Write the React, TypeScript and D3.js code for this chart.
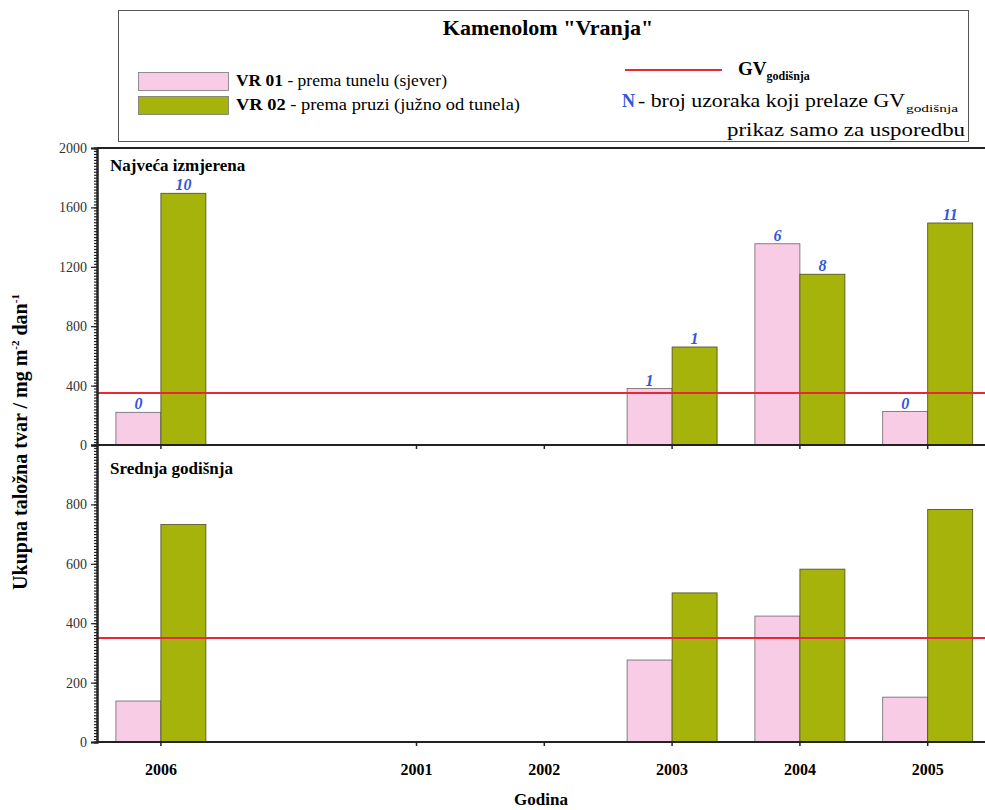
import React, { useRef, useEffect } from 'react';
import * as d3 from 'd3';

// categories along the x axis ('' is an empty slot without a tick)
const years = ['2006', '', '2001', '2002', '2003', '2004', '2005'];

// Najveća izmjerena (max measured)
const maxVR01 = [220, null, null, null, 380, 1355, 225];
const maxVR02 = [1695, null, null, null, 660, 1150, 1495];

// Srednja godišnja (annual mean)
const meanVR01 = [138, null, null, null, 276, 424, 151];
const meanVR02 = [732, null, null, null, 502, 582, 783];

// N - number of samples above GV
const countVR01 = [0, null, null, null, 1, 6, 0];
const countVR02 = [10, null, null, null, 1, 8, 11];

const gvLimit = 350;
const topTicks = [0, 400, 800, 1200, 1600, 2000];
const bottomTicks = [0, 200, 400, 600, 800];

const PINK = '#f9cce6';
const GREEN = '#a6b30b';
const RED = '#e8283a';
const BLUE = '#3556d8';
const FONT = "'Liberation Serif', 'Times New Roman', Times, 'DejaVu Serif', serif";

const App: React.FC = () => {
  const svgRef = useRef<SVGSVGElement>(null);
  const width = 985;
  const height = 810;

  useEffect(() => {
    if (!svgRef.current) return;
    const svg = d3.select(svgRef.current);
    svg.selectAll('*').remove();
    svg.style('font-family', FONT);

    const left = 97;
    const step = 127.8;
    const top1 = 148;
    const mid = 445;
    const bottom2 = 742;

    const x = d3
      .scaleBand<string>()
      .domain(years.map((d, i) => `${i}`))
      .range([left, left + step * years.length])
      .padding(0);
    const center = (i: number) => (x(`${i}`) as number) + x.bandwidth() / 2;

    const inner = d3.scaleBand<string>().domain(['VR01', 'VR02']).range([-45, 45]);

    const yTop = d3.scaleLinear().domain([0, 2000]).range([mid, top1]);
    const yBot = d3.scaleLinear().domain([0, 1000]).range([bottom2, mid]);

    // ---- legend box
    const lg = svg.append('g').style('font-family', FONT);
    lg.append('rect')
      .attr('x', 118.5)
      .attr('y', 10.5)
      .attr('width', 850)
      .attr('height', 131)
      .attr('fill', 'white')
      .attr('stroke', '#555')
      .attr('stroke-width', 1);
    lg.append('text')
      .attr('x', 548)
      .attr('y', 35)
      .attr('text-anchor', 'middle')
      .attr('font-size', 22)
      .attr('font-weight', 'bold')
      .text('Kamenolom "Vranja"');

    const legendItems = [
      { color: PINK, code: 'VR 01', desc: ' - prema tunelu (sjever)', y: 72, w: 211 },
      { color: GREEN, code: 'VR 02', desc: ' - prema pruzi (južno od tunela)', y: 96, w: 284 },
    ];
    legendItems.forEach((it) => {
      lg.append('rect')
        .attr('x', 138.5)
        .attr('y', it.y + 0.5)
        .attr('width', 90)
        .attr('height', 18)
        .attr('fill', it.color)
        .attr('stroke', '#777')
        .attr('stroke-width', 0.8);
      const t = lg
        .append('text')
        .attr('x', 236)
        .attr('y', it.y + 14)
        .attr('font-size', 16)
        .attr('textLength', it.w)
        .attr('lengthAdjust', 'spacingAndGlyphs');
      t.append('tspan').attr('font-weight', 'bold').text(it.code);
      t.append('tspan').text(it.desc);
    });

    lg.append('line')
      .attr('x1', 625)
      .attr('x2', 722)
      .attr('y1', 70)
      .attr('y2', 70)
      .attr('stroke', RED)
      .attr('stroke-width', 2);
    const gv = lg
      .append('text')
      .attr('x', 738)
      .attr('y', 75)
      .attr('font-size', 19)
      .attr('font-weight', 'bold');
    gv.append('tspan').text('GV');
    gv.append('tspan').attr('font-size', 12).attr('dy', 5).text('godišnja');

    lg.append('text')
      .attr('x', 622)
      .attr('y', 107)
      .attr('font-size', 18)
      .attr('font-weight', 'bold')
      .attr('fill', BLUE)
      .text('N');
    lg.append('text')
      .attr('x', 638)
      .attr('y', 107)
      .attr('font-size', 18)
      .attr('textLength', 267)
      .attr('lengthAdjust', 'spacingAndGlyphs')
      .text('- broj uzoraka koji prelaze GV');
    lg.append('text')
      .attr('x', 906)
      .attr('y', 112)
      .attr('font-size', 11)
      .attr('textLength', 52)
      .attr('lengthAdjust', 'spacingAndGlyphs')
      .text('godišnja');
    lg.append('text')
      .attr('x', 727)
      .attr('y', 136)
      .attr('font-size', 18)
      .attr('textLength', 238)
      .attr('lengthAdjust', 'spacingAndGlyphs')
      .text('prikaz samo za usporedbu');

    // ---- bars
    const panels = [
      { y: yTop, a: maxVR01, b: maxVR02, label: 'Najveća izmjerena', ly: 171 },
      { y: yBot, a: meanVR01, b: meanVR02, label: 'Srednja godišnja', ly: 474 },
    ];
    const g = svg.append('g');
    panels.forEach((p) => {
      const rows = years.map((_, i) => ({ i, a: p.a[i], b: p.b[i] }));
      rows.forEach((r) => {
        [
          { key: 'VR01', v: r.a, fill: PINK, stroke: '#666' },
          { key: 'VR02', v: r.b, fill: GREEN, stroke: '#4a4a20' },
        ].forEach((s) => {
          if (s.v == null) return;
          const x0 = center(r.i) + (inner(s.key) as number);
          g.append('rect')
            .attr('x', x0)
            .attr('y', p.y(s.v))
            .attr('width', inner.bandwidth())
            .attr('height', p.y(0) - p.y(s.v))
            .attr('fill', s.fill)
            .attr('stroke', s.stroke)
            .attr('stroke-width', 0.8);
        });
      });

      // GV line
      g.append('line')
        .attr('x1', left)
        .attr('x2', width)
        .attr('y1', p.y(gvLimit))
        .attr('y2', p.y(gvLimit))
        .attr('stroke', RED)
        .attr('stroke-width', 2);

      g.append('text')
        .attr('x', 110)
        .attr('y', p.ly)
        .style('font-family', FONT)
        .attr('font-size', 17)
        .attr('font-weight', 'bold')
        .text(p.label);
    });

    // N labels on the top panel
    years.forEach((_, i) => {
      [
        { key: 'VR01', v: maxVR01[i], n: countVR01[i] },
        { key: 'VR02', v: maxVR02[i], n: countVR02[i] },
      ].forEach((s) => {
        if (s.v == null || s.n == null) return;
        g.append('text')
          .attr('x', center(i) + (inner(s.key) as number) + inner.bandwidth() / 2)
          .attr('y', yTop(s.v) - 3)
          .attr('text-anchor', 'middle')
          .style('font-family', FONT)
          .attr('font-size', 16)
          .attr('font-weight', 'bold')
          .attr('font-style', 'italic')
          .attr('fill', BLUE)
          .text(s.n);
      });
    });

    // ---- frame / axes
    const axisG = svg.append('g').style('font-family', FONT);
    axisG
      .append('line')
      .attr('x1', left)
      .attr('x2', width)
      .attr('y1', top1)
      .attr('y2', top1)
      .attr('stroke', '#222')
      .attr('stroke-width', 2);
    [mid, bottom2].forEach((yy) => {
      axisG
        .append('line')
        .attr('x1', left)
        .attr('x2', width)
        .attr('y1', yy)
        .attr('y2', yy)
        .attr('stroke', '#222')
        .attr('stroke-width', 2);
      years.forEach((yr, i) => {
        if (!yr) return;
        axisG
          .append('line')
          .attr('x1', center(i))
          .attr('x2', center(i))
          .attr('y1', yy)
          .attr('y2', yy + 4)
          .attr('stroke', '#222')
          .attr('stroke-width', 1.5);
      });
    });

    // y axes with minor ticks
    const yAxisTop = d3
      .axisLeft(yTop)
      .tickValues(topTicks)
      .tickSize(6)
      .tickPadding(4)
      .tickFormat((d) => `${d}`);
    const yAxisBot = d3
      .axisLeft(yBot)
      .tickValues(bottomTicks)
      .tickSize(6)
      .tickPadding(4)
      .tickFormat((d) => `${d}`);
    const minorTop = d3.axisLeft(yTop).tickValues(d3.range(0, 2001, 20)).tickSize(3).tickFormat(() => '');
    const minorBot = d3.axisLeft(yBot).tickValues(d3.range(0, 1001, 10)).tickSize(3).tickFormat(() => '');

    [minorTop, minorBot, yAxisTop, yAxisBot].forEach((ax) => {
      const a = axisG.append('g').attr('transform', `translate(${left},0)`).call(ax as any);
      a.attr('font-family', null);
      a.select('.domain').attr('stroke', '#222').attr('stroke-width', 2);
      a.selectAll('.tick line').attr('stroke', '#222').attr('stroke-width', 1.2);
      a.selectAll('.tick text')
        .style('font-family', FONT)
        .attr('font-size', 14)
        .attr('fill', '#333');
    });

    // category labels
    years.forEach((yr, i) => {
      if (!yr) return;
      axisG
        .append('text')
        .attr('x', center(i))
        .attr('y', 775)
        .attr('text-anchor', 'middle')
        .attr('font-size', 16)
        .attr('font-weight', 'bold')
        .text(yr);
    });

    axisG
      .append('text')
      .attr('x', 541)
      .attr('y', 805)
      .attr('text-anchor', 'middle')
      .attr('font-size', 17)
      .attr('font-weight', 'bold')
      .text('Godina');

    const yt = axisG
      .append('text')
      .attr('transform', `translate(27,442) rotate(-90)`)
      .attr('text-anchor', 'middle')
      .attr('font-size', 20)
      .attr('font-weight', 'bold');
    yt.append('tspan').text('Ukupna taložna tvar / mg m');
    yt.append('tspan').attr('font-size', 11).attr('dy', -8).text('-2');
    yt.append('tspan').attr('dy', 8).text(' dan');
    yt.append('tspan').attr('font-size', 11).attr('dy', -8).text('-1');
  }, []);

  return (
    <svg
      ref={svgRef}
      width={width}
      height={height}
      style={{ position: 'absolute', left: 0, top: 0, background: 'white' }}
    />
  );
};

export default App;
